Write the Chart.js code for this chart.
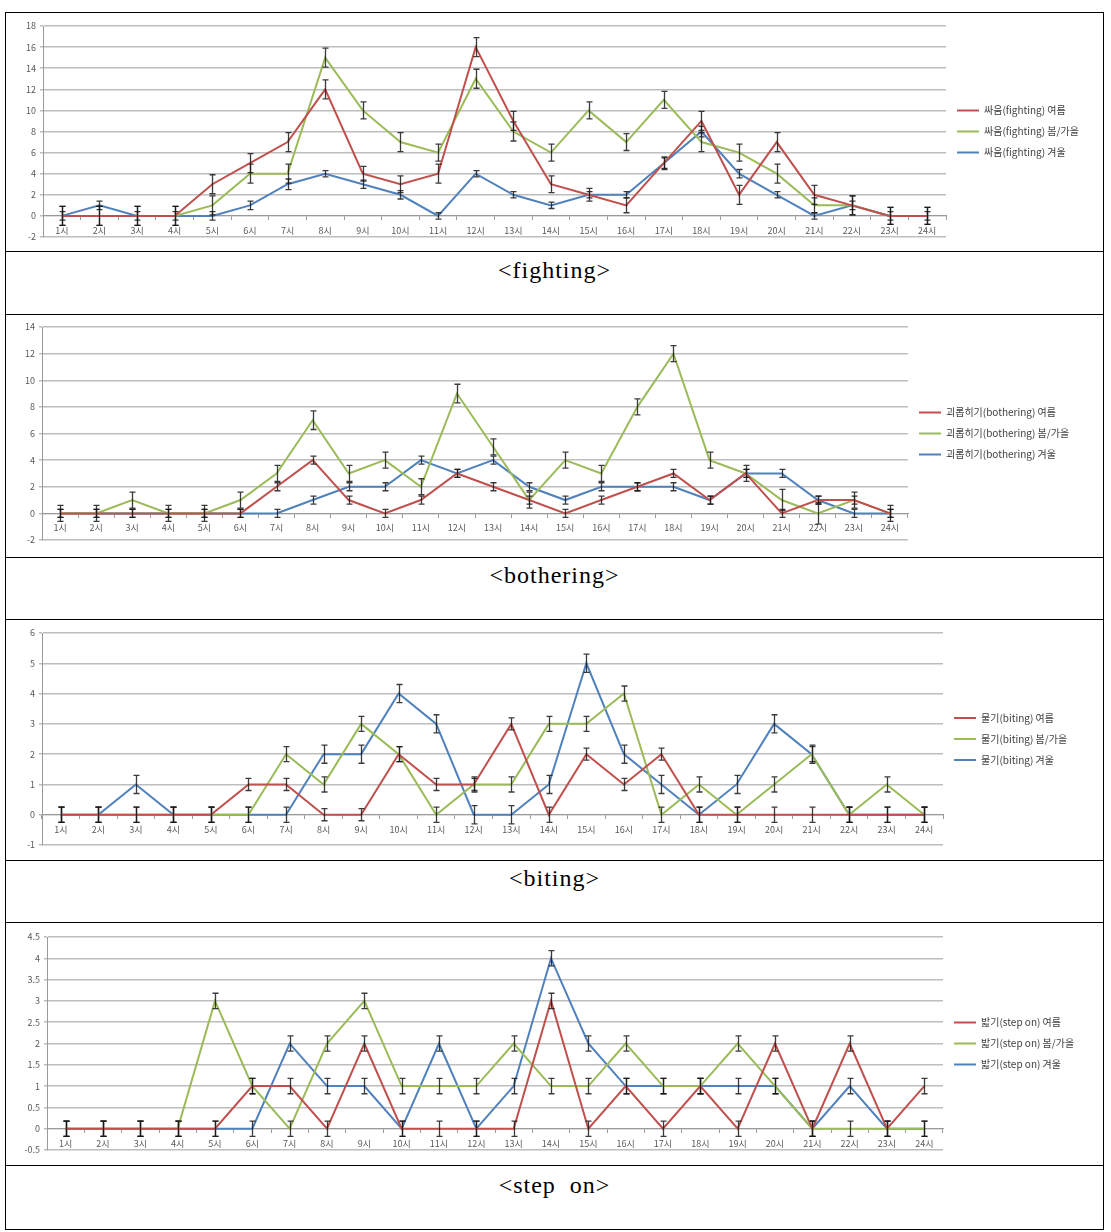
<!DOCTYPE html>
<html><head><meta charset="utf-8">
<script src="https://cdn.jsdelivr.net/npm/chart.js@4.4.1/dist/chart.umd.min.js"></script>
<style>
html,body{margin:0;padding:0;background:#fff;}
#page{position:relative;width:1111px;height:1232px;overflow:hidden;}
#frame{position:absolute;left:5px;top:12px;width:1099px;height:1218px;border:1px solid #000;box-sizing:border-box;}
.hl{position:absolute;left:0;right:0;height:1px;background:#000;}
.cap{position:absolute;left:0;right:0;text-align:center;font-family:"Liberation Serif","DejaVu Serif",serif;font-size:24px;line-height:24px;letter-spacing:1px;color:#000;white-space:pre;}
canvas{position:absolute;left:0;}
</style></head>
<body>
<div id="page"><div id="frame">
  <canvas id="c1" width="1097" height="238" style="top:0px"></canvas>
  <div class="hl" style="top:238px"></div>
  <div class="cap" style="top:245px">&lt;fighting&gt;</div>
  <div class="hl" style="top:301px"></div>
  <canvas id="c2" width="1097" height="242" style="top:302px"></canvas>
  <div class="hl" style="top:544px"></div>
  <div class="cap" style="top:550px">&lt;bothering&gt;</div>
  <div class="hl" style="top:606px"></div>
  <canvas id="c3" width="1097" height="240" style="top:607px"></canvas>
  <div class="hl" style="top:847px"></div>
  <div class="cap" style="top:853px">&lt;biting&gt;</div>
  <div class="hl" style="top:909px"></div>
  <canvas id="c4" width="1097" height="242" style="top:910px"></canvas>
  <div class="hl" style="top:1152px"></div>
  <div class="cap" style="top:1160px">&lt;step  on&gt;</div>
</div></div>
<script>
// ---------- data ----------
const hours = ['1시','2시','3시','4시','5시','6시','7시','8시','9시','10시','11시','12시','13시','14시','15시','16시','17시','18시','19시','20시','21시','22시','23시','24시'];

const fightNames = ['싸움(fighting) 여름','싸움(fighting) 봄/가을','싸움(fighting) 겨울'];
const fightSummer = [0,0,0,0,3,5,7,12,4,3,4,16,9,3,2,1,5,9,2,7,2,1,0,0];
const fightSpring = [0,0,0,0,1,4,4,15,10,7,6,13,8,6,10,7,11,7,6,4,1,1,0,0];
const fightWinter = [0,1,0,0,0,1,3,4,3,2,0,4,2,1,2,2,5,8,4,2,0,1,0,0];
const fightSummerErr = [0.9,0.9,0.9,0.9,0.9,0.9,0.9,0.9,0.7,0.8,0.9,0.9,0.9,0.8,0.6,0.7,0.6,0.9,0.9,0.9,0.9,0.9,0.8,0.8];
const fightSpringErr = [0.9,0.9,0.9,0.9,0.9,0.9,0.9,0.9,0.8,0.9,0.8,0.9,0.9,0.8,0.8,0.8,0.8,0.9,0.8,0.9,0.7,0.9,0.8,0.8];
const fightWinterErr = [0.4,0.4,0.4,0.4,0.4,0.4,0.5,0.3,0.4,0.4,0.3,0.3,0.3,0.3,0.3,0.3,0.5,0.5,0.4,0.3,0.3,0.4,0.4,0.4];

const botherNames = ['괴롭히기(bothering) 여름','괴롭히기(bothering) 봄/가을','괴롭히기(bothering) 겨울'];
const botherSummer = [0,0,0,0,0,0,2,4,1,0,1,3,2,1,0,1,2,3,1,3,0,1,1,0];
const botherSpring = [0,0,1,0,0,1,3,7,3,4,2,9,5,1,4,3,8,12,4,3,1,0,1,0];
const botherWinter = [0,0,0,0,0,0,0,1,2,2,4,3,4,2,1,2,2,2,1,3,3,1,0,0];
const botherSummerErr = [0.3,0.3,0.3,0.3,0.3,0.3,0.3,0.3,0.3,0.3,0.3,0.3,0.3,0.3,0.3,0.3,0.3,0.3,0.3,0.3,0.3,0.3,0.3,0.3];
const botherSpringErr = [0.6,0.6,0.6,0.6,0.6,0.6,0.6,0.7,0.6,0.6,0.6,0.7,0.6,0.6,0.6,0.6,0.6,0.6,0.6,0.6,0.8,0.8,0.6,0.6];
const botherWinterErr = [0.3,0.3,0.3,0.3,0.3,0.3,0.3,0.3,0.3,0.3,0.3,0.3,0.3,0.3,0.3,0.3,0.3,0.3,0.3,0.3,0.3,0.3,0.3,0.3];

const biteNames = ['물기(biting) 여름','물기(biting) 봄/가을','물기(biting) 겨울'];
const biteSummer = [0,0,0,0,0,1,1,0,0,2,1,1,3,0,2,1,2,0,0,0,0,0,0,0];
const biteSpring = [0,0,0,0,0,0,2,1,3,2,0,1,1,3,3,4,0,1,0,1,2,0,1,0];
const biteWinter = [0,0,1,0,0,0,0,2,2,4,3,0,0,1,5,2,1,0,1,3,2,0,0,0];
const biteSummerErr = [0.25,0.25,0.25,0.25,0.25,0.2,0.2,0.2,0.2,0.25,0.2,0.2,0.2,0.25,0.2,0.2,0.2,0.25,0.25,0.25,0.25,0.25,0.25,0.25];
const biteSpringErr = [0.25,0.25,0.25,0.25,0.25,0.25,0.25,0.25,0.25,0.25,0.25,0.25,0.25,0.25,0.25,0.25,0.25,0.25,0.25,0.25,0.25,0.25,0.25,0.25];
const biteWinterErr = [0.25,0.25,0.3,0.25,0.25,0.25,0.25,0.3,0.3,0.3,0.3,0.3,0.3,0.3,0.3,0.3,0.3,0.25,0.3,0.3,0.3,0.25,0.25,0.25];

const stepNames = ['밟기(step on) 여름','밟기(step on) 봄/가을','밟기(step on) 겨울'];
const stepSummer = [0,0,0,0,0,1,1,0,2,0,0,0,0,3,0,1,0,1,0,2,0,2,0,1];
const stepSpring = [0,0,0,0,3,1,0,2,3,1,1,1,2,1,1,2,1,1,2,1,0,0,0,0];
const stepWinter = [0,0,0,0,0,0,2,1,1,0,2,0,1,4,2,1,1,1,1,1,0,1,0,0];
const stepSummerErr = [0.18,0.18,0.18,0.18,0.18,0.18,0.18,0.18,0.18,0.18,0.18,0.18,0.18,0.18,0.18,0.18,0.18,0.18,0.18,0.18,0.18,0.18,0.18,0.18];
const stepSpringErr = [0.18,0.18,0.18,0.18,0.18,0.18,0.18,0.18,0.18,0.18,0.18,0.18,0.18,0.18,0.18,0.18,0.18,0.18,0.18,0.18,0.18,0.18,0.18,0.18];
const stepWinterErr = [0.18,0.18,0.18,0.18,0.18,0.18,0.18,0.18,0.18,0.18,0.18,0.18,0.18,0.18,0.18,0.18,0.18,0.18,0.18,0.18,0.18,0.18,0.18,0.18];

// ---------- styling ----------
const FONT = '"Noto Sans CJK KR","Noto Sans",sans-serif';
const COLORS = ['#c0504d','#9bbb59','#4f81bd'];

const errorBars = {
  id: 'errorBars',
  afterDatasetDraw(chart, args) {
    const ds = chart.data.datasets[args.index];
    if (!ds.errors) return;
    const ys = chart.scales.y, ctx = chart.ctx;
    ctx.save();
    ctx.strokeStyle = 'rgba(25,25,25,0.85)';
    ctx.lineWidth = 1.3;
    args.meta.data.forEach((pt, i) => {
      const v = ds.data[i], e = ds.errors[i];
      const x = Math.round(pt.x) + 0.5;
      const t = ys.getPixelForValue(v + e), b = ys.getPixelForValue(v - e);
      ctx.beginPath();
      ctx.moveTo(x, t); ctx.lineTo(x, b);
      ctx.moveTo(x - 3, t); ctx.lineTo(x + 3, t);
      ctx.moveTo(x - 3, b); ctx.lineTo(x + 3, b);
      ctx.stroke();
    });
    ctx.restore();
  }
};

function makeChart(id, names, series, errs, yMin, yMax, step, target) {
  const datasets = series.map((d, i) => ({
    label: names[i], data: d, errors: errs[i],
    borderColor: COLORS[i], backgroundColor: COLORS[i],
    borderWidth: 2, pointRadius: 0, tension: 0, fill: false
  }));
  const chart = new Chart(document.getElementById(id), {
    type: 'line',
    data: { labels: hours, datasets },
    plugins: [errorBars],
    options: {
      responsive: false, animation: false,
      layout: { padding: { left: 10, right: 10, top: 12, bottom: 12 } },
      plugins: {
        tooltip: { enabled: false },
        legend: {
          position: 'right', align: 'center',
          labels: { usePointStyle: true, pointStyle: 'line', pointStyleWidth: 22,
                    font: { family: FONT, size: 10 }, color: '#404040', padding: 11 }
        }
      },
      scales: {
        x: {
          type: 'category', offset: true, position: { y: 0 },
          grid: { display: true, drawOnChartArea: false, drawTicks: true, tickLength: 4, offset: true, color: '#9a9a9a' },
          border: { display: true, color: '#9a9a9a', width: 1 },
          ticks: { font: { family: FONT, size: 9 }, color: '#595959', padding: 5, maxRotation: 0, autoSkip: false }
        },
        y: {
          min: yMin, max: yMax,
          ticks: { stepSize: step, font: { family: FONT, size: 9 }, color: '#595959', padding: 4,
                   callback: (v) => String(Math.round(v * 10) / 10) },
          grid: { color: '#bdbdbd', lineWidth: 1.5, tickLength: 3 },
          border: { display: true, color: '#9a9a9a', width: 1 }
        }
      }
    }
  });
  const p = chart.options.layout.padding;
  const a = chart.chartArea;
  p.left += target.left - a.left;
  p.right += a.right - target.right;
  p.top += target.top - a.top;
  p.bottom += a.bottom - target.bottom;
  chart.update();
  return chart;
}

makeChart('c1', fightNames, [fightSummer, fightSpring, fightWinter],
  [fightSummerErr, fightSpringErr, fightWinterErr], -2, 18, 2,
  { left: 37, right: 940, top: 13, bottom: 224 });
makeChart('c2', botherNames, [botherSummer, botherSpring, botherWinter],
  [botherSummerErr, botherSpringErr, botherWinterErr], -2, 14, 2,
  { left: 36, right: 902, top: 12, bottom: 225 });
makeChart('c3', biteNames, [biteSummer, biteSpring, biteWinter],
  [biteSummerErr, biteSpringErr, biteWinterErr], -1, 6, 1,
  { left: 36, right: 937, top: 13, bottom: 225 });
makeChart('c4', stepNames, [stepSummer, stepSpring, stepWinter],
  [stepSummerErr, stepSpringErr, stepWinterErr], -0.5, 4.5, 0.5,
  { left: 41, right: 937, top: 14, bottom: 227 });
</script>
</body></html>
